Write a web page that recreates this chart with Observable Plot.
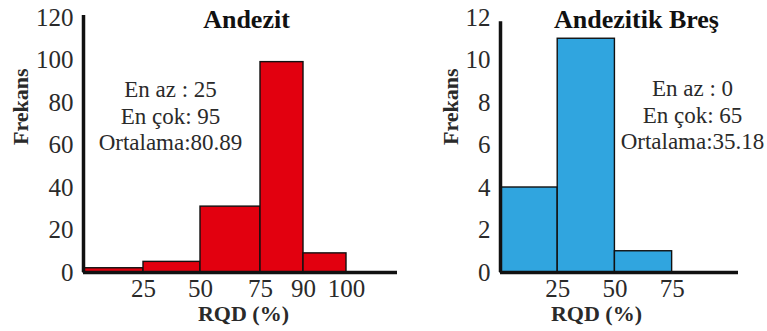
<!DOCTYPE html>
<html>
<head>
<meta charset="utf-8">
<script src="https://cdn.jsdelivr.net/npm/d3@7"></script>
<script src="https://cdn.jsdelivr.net/npm/@observablehq/plot@0.6"></script>
<style>
  body { margin: 0; background: #fff; }
  #wrap { position: relative; width: 767px; height: 331px; overflow: hidden; background: #fff; }
  #wrap svg { position: absolute; top: 0; font-family: "Liberation Serif", "Times New Roman", serif; }
  #wrap svg text { font-family: "Liberation Serif", "Times New Roman", serif; }
</style>
</head>
<body>
<div id="wrap"></div>
<script>
// Andezit: RQD classes (%) and number of measurements per class
const andezitLo = [0, 25, 50, 75, 90];
const andezitHi = [25, 50, 75, 90, 100];
const andezitCount = [2, 5, 31, 99, 9];
const andezitXTicks = [25, 50, 75, 90, 100];
const andezitYTicks = [0, 20, 40, 60, 80, 100, 120];
const andezitStats = ["En az : 25", "En çok: 95", "Ortalama:80.89"];

// Andezitik breş: RQD classes (%) and number of measurements per class
const bresLo = [0, 25, 50];
const bresHi = [25, 50, 75];
const bresCount = [4, 11, 1];
const bresXTicks = [25, 50, 75];
const bresYTicks = [0, 2, 4, 6, 8, 10, 12];
const bresStats = ["En az : 0", "En çok: 65", "Ortalama:35.18"];

function histogram(cfg) {
  const bins = cfg.lo.map((lo, i) => ({lo, hi: cfg.hi[i], n: cfg.count[i]}));
  return Plot.plot({
    width: cfg.width,
    height: 331,
    marginTop: 17,
    marginBottom: 59,
    marginLeft: cfg.marginLeft,
    marginRight: cfg.marginRight,
    style: "background: transparent; overflow: visible;",
    x: cfg.x,
    y: {domain: [0, cfg.yTicks[cfg.yTicks.length - 1]]},
    marks: [
      Plot.rectY(bins, {x1: "lo", x2: "hi", y: "n", fill: cfg.fill, stroke: "#111", strokeWidth: 1.4}),
      Plot.ruleX([0], {y1: 0, y2: cfg.axisTop, stroke: "#111", strokeWidth: 3.5}),
      Plot.ruleY([0], {stroke: "#111", strokeWidth: 3.5}),
      Plot.axisY({ticks: cfg.yTicks, tickSize: 0, tickPadding: 10, fontSize: 25, fill: "#2a2a2a", label: null}),
      Plot.axisX({ticks: cfg.xTicks, tickSize: 0, tickPadding: 7, fontSize: 25, fill: "#2a2a2a", label: null}),
      Plot.text([cfg.title], {frameAnchor: "top", lineAnchor: "bottom", dy: 10, dx: cfg.titleDx,
        fontSize: 26, fontWeight: "bold", fill: "#111"}),
      Plot.text([cfg.stats.join("\n")], {frameAnchor: "top", lineAnchor: "top", dy: cfg.statsDy, dx: cfg.statsDx,
        fontSize: 23, lineHeight: 1.17, fill: "#2a2a2a"}),
      Plot.text(["RQD (%)"], {frameAnchor: "bottom", lineAnchor: "bottom", dy: 48, dx: cfg.labelDx,
        fontSize: 22, fontWeight: "bold", fill: "#2a2a2a"}),
      Plot.text(["Frekans"], {frameAnchor: "left", rotate: -90, dx: cfg.frekansDx,
        fontSize: 22, fontWeight: "bold", fill: "#2a2a2a"})
    ]
  });
}

const left = histogram({
  title: "Andezit",
  lo: andezitLo, hi: andezitHi, count: andezitCount,
  xTicks: andezitXTicks, yTicks: andezitYTicks, stats: andezitStats,
  fill: "#e2000f",
  width: 400, marginLeft: 83, marginRight: 3,
  // unequal class widths along the RQD axis
  x: {type: "linear", domain: [0, 25, 50, 75, 90, 100, 118], range: [83, 143, 200, 260, 303, 346, 397]},
  axisTop: 121,
  titleDx: 6, statsDx: -70, statsDy: 60, labelDx: 3, frekansDx: -63
});

const right = histogram({
  title: "Andezitik Breş",
  lo: bresLo, hi: bresHi, count: bresCount,
  xTicks: bresXTicks, yTicks: bresYTicks, stats: bresStats,
  fill: "#30a5df",
  width: 367, marginLeft: 100, marginRight: 29,
  x: {type: "linear", domain: [0, 104]},
  axisTop: 11.8,
  titleDx: 17, statsDx: 73, statsDy: 59, labelDx: -23, frekansDx: -50
});

left.style.left = "0px";
right.style.left = "400px";
const wrap = document.getElementById("wrap");
wrap.appendChild(left);
wrap.appendChild(right);
</script>
</body>
</html>
